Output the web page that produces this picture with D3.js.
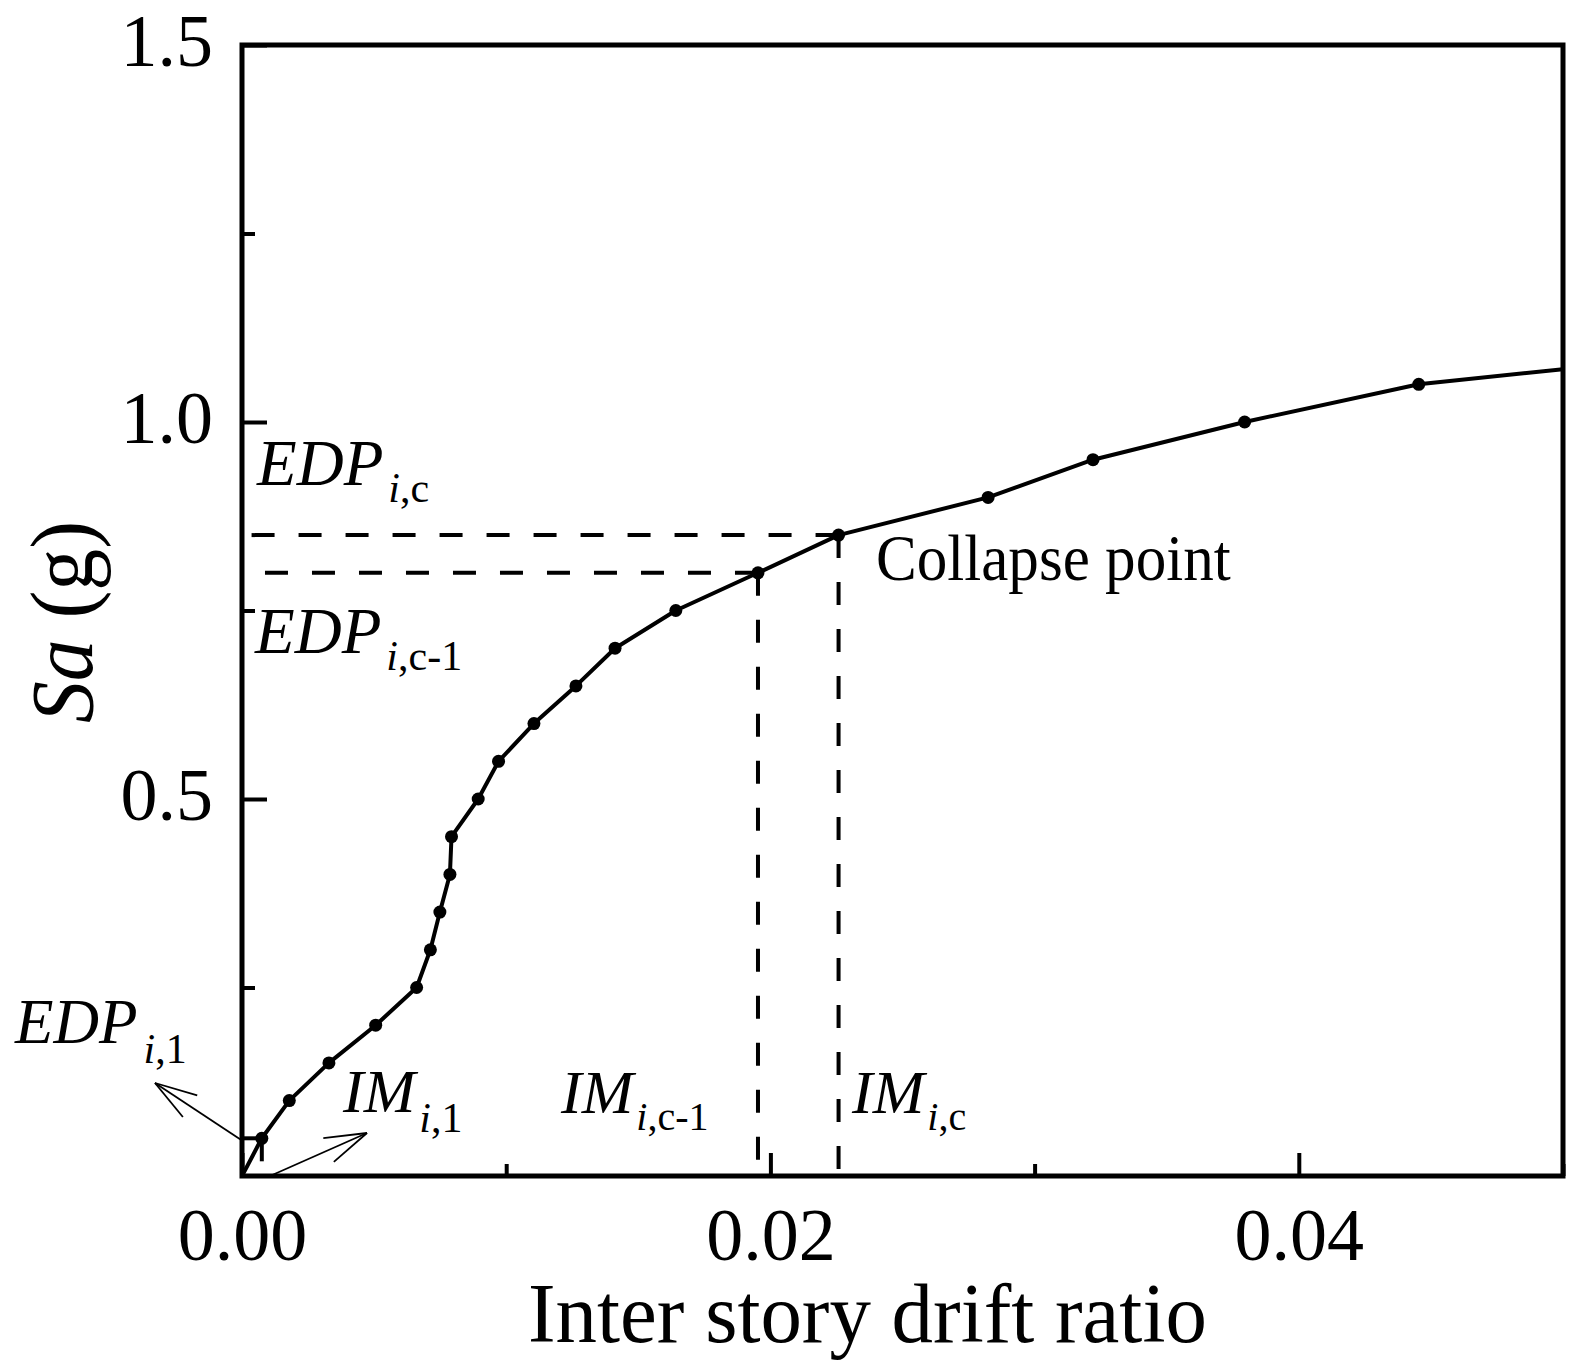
<!DOCTYPE html>
<html>
<head>
<meta charset="utf-8">
<script src="https://cdn.jsdelivr.net/npm/d3@7"></script>
<style>
  html, body { margin: 0; padding: 0; background: #fff; }
  svg { display: block; }
</style>
</head>
<body>
<script>
// ---------------- data ----------------
const driftRatio = [0, 0.00075, 0.00179, 0.00329, 0.00506, 0.00661, 0.00713, 0.00749, 0.00787, 0.00793,
                    0.00894, 0.00971, 0.01105, 0.01264, 0.01412, 0.01642, 0.01953, 0.02258, 0.02824,
                    0.03221, 0.03795, 0.04454, 0.05];
const saValues   = [0, 0.05, 0.10, 0.15, 0.20, 0.25, 0.30, 0.35, 0.40, 0.45,
                    0.50, 0.55, 0.60, 0.65, 0.70, 0.75, 0.80, 0.85, 0.90,
                    0.95, 1.00, 1.05, 1.07];
const guideIndex = [1, 16, 17];          // EDP/IM guide points (first, c-1, c)
const xMajorTicks = [0, 0.02, 0.04];
const xMinorTicks = [0.01, 0.03, 0.05];
const yMajorTicks = [0.5, 1.0, 1.5];
const yMinorTicks = [0.25, 0.75, 1.25];
const xTitle = "Inter story drift ratio";

// ---------------- layout ----------------
const W = 1582, H = 1365;
const serif = "'Liberation Serif','Times New Roman',Times,serif";
const x = d3.scaleLinear().domain([0, 0.05]).range([242, 1563]);
const y = d3.scaleLinear().domain([0, 1.5]).range([1176, 45]);

const svg = d3.select("body").append("svg").attr("width", W).attr("height", H);

svg.append("defs").append("clipPath").attr("id", "plotclip")
  .append("rect").attr("x", x(0)).attr("y", y(1.5)).attr("width", x(0.05) - x(0)).attr("height", y(0) - y(1.5));

const pts = driftRatio.map((d, i) => ({ x: d, y: saValues[i] }));

// ---------------- dashed guides ----------------
const guides = svg.append("g").attr("clip-path", "url(#plotclip)")
  .attr("stroke", "#000").attr("stroke-width", 4).attr("stroke-dasharray", "23,24").attr("fill", "none");
guideIndex.forEach(i => {
  const p = pts[i];
  guides.append("line").attr("x1", x(p.x)).attr("y1", y(p.y)).attr("x2", x(0)).attr("y2", y(p.y));
  guides.append("line").attr("x1", x(p.x)).attr("y1", y(p.y)).attr("x2", x(p.x)).attr("y2", y(0));
});

// ---------------- curve ----------------
const plot = svg.append("g").attr("clip-path", "url(#plotclip)");
plot.append("path").datum(pts)
  .attr("d", d3.line().x(d => x(d.x)).y(d => y(d.y)))
  .attr("fill", "none").attr("stroke", "#000").attr("stroke-width", 4).attr("stroke-linejoin", "round");
plot.selectAll("circle").data(pts.filter(d => d.x > 0 && d.x < 0.05)).join("circle")
  .attr("cx", d => x(d.x)).attr("cy", d => y(d.y)).attr("r", 6.5).attr("fill", "#000");

// ---------------- axes ----------------
function styleAxis(g) {
  g.select(".domain").remove();
  g.selectAll(".tick line").attr("stroke", "#000").attr("stroke-width", 4);
}
const gxMinor = svg.append("g").attr("transform", `translate(0,${y(0)})`)
  .call(d3.axisBottom(x).tickValues(xMinorTicks).tickSizeInner(-12).tickSizeOuter(0).tickFormat(""));
styleAxis(gxMinor);
const gx = svg.append("g").attr("transform", `translate(0,${y(0)})`)
  .call(d3.axisBottom(x).tickValues(xMajorTicks).tickSizeInner(-23).tickSizeOuter(0).tickFormat(d3.format(".2f")));
styleAxis(gx);
gx.selectAll(".tick text").attr("y", 84).attr("dy", 0)
  .attr("font-family", serif).attr("font-size", 74).attr("fill", "#000");

const gyMinor = svg.append("g").attr("transform", `translate(${x(0)},0)`)
  .call(d3.axisLeft(y).tickValues(yMinorTicks).tickSizeInner(-13).tickSizeOuter(0).tickFormat(""));
styleAxis(gyMinor);
const gy = svg.append("g").attr("transform", `translate(${x(0)},0)`)
  .call(d3.axisLeft(y).tickValues(yMajorTicks).tickSizeInner(-25).tickSizeOuter(0).tickFormat(d3.format(".1f")));
styleAxis(gy);
gy.selectAll(".tick text").attr("x", -29).attr("dy", "0.28em")
  .attr("font-family", serif).attr("font-size", 74).attr("fill", "#000");

// frame
svg.append("rect").attr("x", x(0)).attr("y", y(1.5)).attr("width", x(0.05) - x(0)).attr("height", y(0) - y(1.5))
  .attr("fill", "none").attr("stroke", "#000").attr("stroke-width", 5);

// ---------------- titles ----------------
svg.append("text").attr("transform", "translate(528,1342) scale(0.975,1)")
  .attr("font-family", serif).attr("font-size", 85).attr("fill", "#000").text(xTitle);

const yt = svg.append("text").attr("transform", "translate(92,622) rotate(-90) scale(0.95,1)")
  .attr("text-anchor", "middle").attr("font-family", serif).attr("font-size", 88).attr("fill", "#000");
yt.append("tspan").attr("font-style", "italic").text("Sa");
yt.append("tspan").text(" (g)");

// ---------------- annotations ----------------
function subLabel(px, py, main, subIt, subRm, size, subSize, subDy, subDx) {
  const t = svg.append("text").attr("x", px).attr("y", py)
    .attr("font-family", serif).attr("fill", "#000");
  t.append("tspan").attr("font-style", "italic").attr("font-size", size).text(main);
  t.append("tspan").attr("font-style", "italic").attr("font-size", subSize)
    .attr("dy", subDy).attr("dx", subDx).text(subIt);
  t.append("tspan").attr("font-size", subSize).text(subRm);
}
subLabel(257, 485, "EDP", "i", ",c", 65, 42, 17, 5);
subLabel(255, 653, "EDP", "i", ",c-1", 65, 42, 17, 5);
subLabel(15, 1043, "EDP", "i", ",1", 63, 42, 20, 6);
subLabel(343, 1112, "IM", "i", ",1", 62, 42, 20, 4);
subLabel(561, 1113, "IM", "i", ",c-1", 62, 40, 17, 3);
subLabel(852, 1113, "IM", "i", ",c", 62, 40, 17, 3);

svg.append("text").attr("transform", "translate(876,580) scale(0.94,1)")
  .attr("font-family", serif).attr("font-size", 65).attr("fill", "#000").text("Collapse point");

// arrows
function arrow(x1, y1, x2, y2) {
  const g = svg.append("g").attr("stroke", "#000").attr("stroke-width", 1.8).attr("fill", "none");
  g.append("line").attr("x1", x1).attr("y1", y1).attr("x2", x2).attr("y2", y2);
  const ang = Math.atan2(y1 - y2, x1 - x2);
  [-0.3, 0.3].forEach(da => {
    g.append("line").attr("x1", x2).attr("y1", y2)
      .attr("x2", x2 + 44 * Math.cos(ang + da)).attr("y2", y2 + 44 * Math.sin(ang + da));
  });
}
arrow(x(0), y(0.047), 155, 1083);
arrow(x(0.00106), y(0), 367, 1133);
</script>
</body>
</html>
